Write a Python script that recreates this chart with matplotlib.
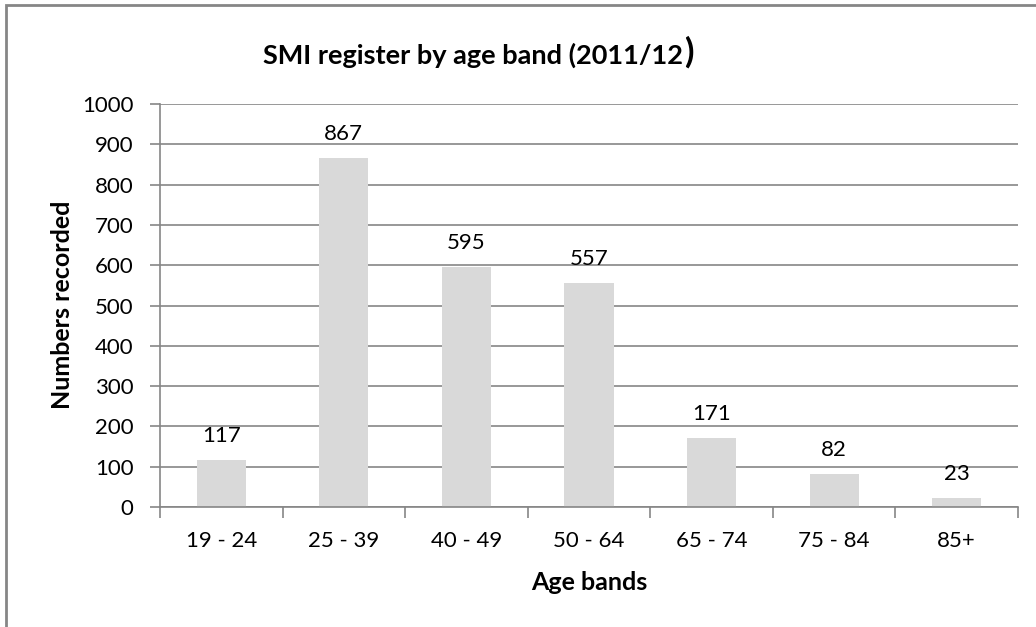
import matplotlib
matplotlib.use("Agg")
import matplotlib.pyplot as plt
from matplotlib.patches import Rectangle
import numpy as np

categories = ["19 - 24", "25 - 39", "40 - 49", "50 - 64", "65 - 74", "75 - 84", "85+"]
values = [117, 867, 595, 557, 171, 82, 23]
y_ticks = [0, 100, 200, 300, 400, 500, 600, 700, 800, 900, 1000]

title_text = "SMI register by age band (2011/12"
x_label = "Age bands"
y_label = "Numbers recorded"

FONT = "Lato"
GRAY = "#868686"
BAR = "#D9D9D9"
W, H = 1036, 627
FS = 16

plt.rcParams["font.family"] = [FONT, "DejaVu Sans"]

fig = plt.figure(figsize=(W / 100, H / 100), dpi=100)
fig.patch.set_facecolor("white")

# chart-area frame
fig.add_artist(Rectangle((6 / W, -0.1), 1.2, 1.1 - 5 / H, transform=fig.transFigure,
                         fill=False, edgecolor=GRAY, linewidth=2))

ax = fig.add_axes([160 / W, 1 - 507 / H, (1018 - 160) / W, (507 - 104) / H])
x = np.arange(len(categories))
ax.bar(x, values, width=0.4, color=BAR, zorder=3)

ax.set_xlim(-0.5, len(categories) - 0.5)
ax.set_ylim(0, 1000)
ax.set_yticks(y_ticks)
ax.set_yticklabels([str(v) for v in y_ticks], fontsize=FS)
ax.yaxis.grid(True, color=GRAY, linewidth=1.2, zorder=1)
ax.set_axisbelow(True)

# category labels centred, ticks on category boundaries
ax.set_xticks(np.arange(len(categories) + 1) - 0.5)
ax.set_xticklabels([])
ax.set_xticks(x, minor=True)
ax.set_xticklabels(categories, minor=True, fontsize=FS)
ax.tick_params(axis="x", which="minor", length=0, pad=17)
ax.tick_params(axis="x", which="major", length=8, width=1.2, color=GRAY, direction="out")
ax.tick_params(axis="y", length=7, width=1.2, color=GRAY, direction="out", pad=12)

for s in ["top", "right"]:
    ax.spines[s].set_visible(False)
for s in ["left", "bottom"]:
    ax.spines[s].set_color(GRAY)
    ax.spines[s].set_linewidth(1.2)
    ax.spines[s].set_zorder(4)

for xi, v in zip(x, values):
    ax.annotate(str(v), (xi, v), xytext=(0, 10), textcoords="offset points",
                ha="center", va="bottom", fontsize=FS, zorder=5)

fig.text(62 / W, 1 - 305 / H, y_label, rotation=90, ha="center", va="center",
         fontsize=18, fontweight="bold")
fig.text(589 / W, 1 - 583 / H, x_label, ha="center", va="center",
         fontsize=18, fontweight="bold")

# title with an enlarged closing bracket
t = fig.text(263 / W, 1 - 55 / H, title_text, ha="left", va="center",
             fontsize=19.5, fontweight="bold")
fig.canvas.draw()
bb = t.get_window_extent()
fig.text(bb.x1 / W + 1 / W, 1 - 52 / H, ")", ha="left", va="center",
         fontsize=25, fontweight="bold")

fig.savefig("out.png", dpi=100, facecolor="white")
